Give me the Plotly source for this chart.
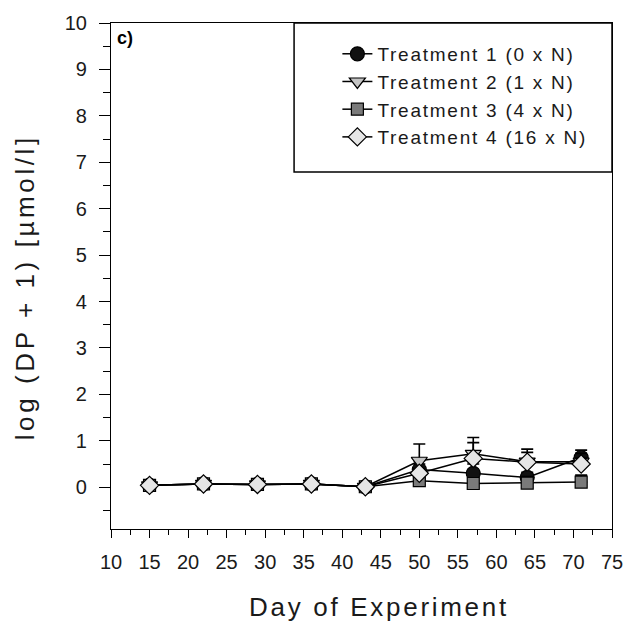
import plotly.graph_objects as go

days = [15, 22, 29, 36, 43, 50, 57, 64, 71]
names = ["Treatment 1 (0 x N)", "Treatment 2 (1 x N)", "Treatment 3 (4 x N)", "Treatment 4 (16 x N)"]
t1 = [0.04, 0.07, 0.06, 0.07, 0.01, 0.38, 0.30, 0.21, 0.64]
t2 = [0.04, 0.07, 0.06, 0.07, 0.01, 0.57, 0.72, 0.55, 0.55]
t3 = [0.04, 0.07, 0.06, 0.07, 0.01, 0.14, 0.08, 0.09, 0.11]
t4 = [0.04, 0.07, 0.06, 0.07, 0.01, 0.30, 0.62, 0.54, 0.50]
e1 = [0, 0, 0, 0, 0, 0.12, 0.20, 0.11, 0.16]
e2 = [0, 0, 0, 0, 0, 0.36, 0.35, 0.20, 0.18]
e3 = [0, 0, 0, 0, 0, 0.05, 0.06, 0.14, 0.15]
e4 = [0, 0, 0, 0, 0, 0.10, 0.34, 0.28, 0.12]
xticks = list(range(10, 80, 5))
yticks = list(range(0, 11))
x_title = "Day of Experiment"
y_title = "log (DP + 1) [µmol/l]"
panel = "c)"

series = [
    (t1, e1, "circle", 14, "#111111"),
    (t2, e2, "triangle-down", 14, "#c4c4c4"),
    (t3, e3, "square", 12, "#7a7a7a"),
    (t4, e4, "diamond", 14, "#e6e6e6"),
]

FONT = "Liberation Sans, Arial, sans-serif"
TXT = "#1a1a1a"
PW = 509.0  # plot width/height in px

fig = go.Figure()
for (vals, err, sym, sz, col), nm in zip(series, names):
    fig.add_trace(go.Scatter(
        x=days, y=vals, name=nm, mode="lines+markers",
        line=dict(color="black", width=1.5),
        marker=dict(symbol=sym, size=sz, color=col, line=dict(color="black", width=1.2)),
        error_y=dict(type="data", array=err, arrayminus=[0]*len(err), symmetric=False,
                     color="black", thickness=1.6, width=6),
    ))

legend_x = (341 - 111) / PW
fig.update_layout(
    width=635, height=625,
    margin=dict(l=111, r=15, t=20, b=96),
    plot_bgcolor="white", paper_bgcolor="white",
    font=dict(family=FONT, color=TXT, size=20),
    showlegend=True,
    legend=dict(x=legend_x, y=1 - (32 - 20) / PW, xanchor="left", yanchor="top",
                bgcolor="rgba(0,0,0,0)", borderwidth=0,
                font=dict(family=FONT, size=19, color=TXT),
                tracegroupgap=0),
    shapes=[dict(type="rect", xref="paper", yref="paper",
                 x0=(297 - 111) / PW, x1=1.0, y0=1 - (170 - 20) / PW, y1=1.0,
                 line=dict(color="black", width=1.5), fillcolor="rgba(0,0,0,0)", layer="above")],
    annotations=[
        dict(text="<b>" + panel + "</b>", xref="paper", yref="paper", x=0.008, y=0.995,
             xanchor="left", yanchor="top", showarrow=False,
             font=dict(family=FONT, size=18, color="black")),
        dict(text=x_title, xref="paper", yref="paper", x=(384 - 111) / PW, y=(529.3 - 625) / PW,
             xanchor="center", yanchor="bottom", showarrow=False,
             font=dict(family=FONT, size=26, color=TXT)),
        dict(text=y_title, xref="paper", yref="paper", x=(24 - 111) / PW, y=(529.3 - 286) / PW,
             xanchor="center", yanchor="middle", showarrow=False, textangle=-90,
             font=dict(family=FONT, size=26, color=TXT)),
    ],
)
fig.update_xaxes(
    range=[10, 75], tickvals=xticks, ticktext=[str(v) for v in xticks],
    showline=True, linecolor="black", linewidth=1.2, mirror=True,
    ticks="outside", ticklen=8, tickwidth=1.2, tickcolor="black",
    minor=dict(dtick=2.5, tick0=10, ticks="outside", ticklen=4.5, tickwidth=1.2, tickcolor="black"),
    showgrid=False, zeroline=False, ticklabelstandoff=7,
    tickfont=dict(family=FONT, size=20, color=TXT),
)
fig.update_yaxes(
    range=[-0.9, 10], tickvals=yticks, ticktext=[str(v) for v in yticks],
    showline=True, linecolor="black", linewidth=1.2, mirror=True,
    ticks="outside", ticklen=11, tickwidth=1.2, tickcolor="black",
    minor=dict(dtick=0.5, tick0=0, ticks="outside", ticklen=7, tickwidth=1.2, tickcolor="black"),
    showgrid=False, zeroline=False, ticklabelstandoff=8,
    tickfont=dict(family=FONT, size=20, color=TXT),
)

post = (
    "var s=document.createElement('style');"
    "s.textContent='.legendtext{letter-spacing:1.75px} "
    "g.legend g.scrollbox{clip-path:none !important} "
    "g.annotation[data-index=\"1\"] text{letter-spacing:2.7px} "
    "g.annotation[data-index=\"2\"] text{letter-spacing:3.6px}';"
    "document.head.appendChild(s);"
)
fig.write_html("out.html", post_script=post)
